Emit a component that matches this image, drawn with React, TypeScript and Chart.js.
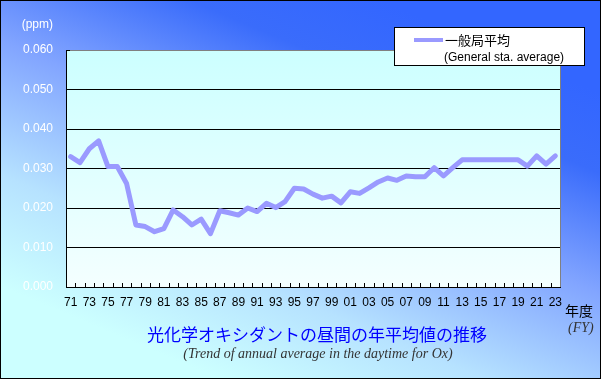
import React, { useEffect, useRef } from 'react';
import { Chart, registerables } from 'chart.js';

Chart.register(...registerables);

const years: string[] = [
  '71','72','73','74','75','76','77','78','79','80',
  '81','82','83','84','85','86','87','88','89','90',
  '91','92','93','94','95','96','97','98','99','00',
  '01','02','03','04','05','06','07','08','09','10',
  '11','12','13','14','15','16','17','18','19','20',
  '21','22','23',
];

const generalAverage: number[] = [
  0.0330, 0.0315, 0.0350, 0.0370, 0.0305, 0.0305, 0.0262, 0.0157, 0.0153, 0.0140,
  0.0148, 0.0195, 0.0178, 0.0157, 0.0172, 0.0135, 0.0193, 0.0188, 0.0182, 0.0200,
  0.0191, 0.0212, 0.0201, 0.0216, 0.0250, 0.0248, 0.0235, 0.0225, 0.0230, 0.0213,
  0.0241, 0.0237, 0.0251, 0.0266, 0.0276, 0.0270, 0.0281, 0.0279, 0.0279, 0.0302,
  0.0281, 0.0302, 0.0322, 0.0322, 0.0322, 0.0322, 0.0322, 0.0322, 0.0322, 0.0306,
  0.0332, 0.0311, 0.0332,
];

const yMin = 0;
const yMax = 0.06;
const yStep = 0.01;

const seriesLabel = '一般局平均';
const seriesLabelEn = '(General sta. average)';
const titleJa = '光化学オキシダントの昼間の年平均値の推移';
const titleEn = '(Trend of annual average in the daytime for Ox)';
const unitLabel = '(ppm)';
const xUnitJa = '年度';
const xUnitEn = '(FY)';

const LINE_COLOR = '#9a9aff';
const SANS = '"Liberation Sans", Arial, sans-serif';
const CJK = '"Noto Sans CJK JP", sans-serif';
const SERIF = '"Liberation Serif", "Times New Roman", serif';

const backgroundPlugin = {
  id: 'bgPlugin',
  beforeDraw(chart: any) {
    const { ctx, width, height, chartArea } = chart;
    ctx.save();
    const g = ctx.createLinearGradient(380, 0, 220, height);
    g.addColorStop(0, '#3366ff');
    g.addColorStop(0.18, '#3a6cfb');
    g.addColorStop(0.45, '#82a5ff');
    g.addColorStop(0.75, '#b6e2ff');
    g.addColorStop(1, '#ccffff');
    ctx.fillStyle = g;
    ctx.fillRect(0, 0, width, height);

    const pg = ctx.createLinearGradient(0, chartArea.top, 0, chartArea.bottom);
    pg.addColorStop(0, '#ccffff');
    pg.addColorStop(1, '#f4ffff');
    ctx.fillStyle = pg;
    ctx.fillRect(chartArea.left, chartArea.top, chartArea.right - chartArea.left, chartArea.bottom - chartArea.top);
    ctx.restore();
  },
  afterDraw(chart: any) {
    const { ctx, width, height, chartArea } = chart;
    const xs = chart.scales.x;
    ctx.save();
    ctx.strokeStyle = '#000';
    ctx.lineWidth = 1;
    const n = years.length;
    const step = (xs.right - xs.left) / n;
    ctx.beginPath();
    for (let i = 0; i <= n; i++) {
      const x = Math.round(xs.left + i * step) + 0.5;
      ctx.moveTo(x, chartArea.bottom);
      ctx.lineTo(x, chartArea.bottom - 4);
    }
    ctx.moveTo(chartArea.left, Math.round(chartArea.top) + 0.5);
    ctx.lineTo(chartArea.left + 4, Math.round(chartArea.top) + 0.5);
    ctx.stroke();

    ctx.strokeStyle = '#808080';
    ctx.beginPath();
    ctx.moveTo(Math.round(chartArea.right) + 0.5, chartArea.top);
    ctx.lineTo(Math.round(chartArea.right) + 0.5, chartArea.bottom);
    ctx.stroke();

    // legend
    ctx.fillStyle = '#ffffff';
    ctx.fillRect(394.5, 27.5, 190, 38);
    ctx.strokeStyle = '#000';
    ctx.strokeRect(394.5, 27.5, 190, 38);
    ctx.strokeStyle = LINE_COLOR;
    ctx.lineWidth = 4;
    ctx.beginPath();
    ctx.moveTo(414, 40);
    ctx.lineTo(443, 40);
    ctx.stroke();
    ctx.fillStyle = '#000';
    ctx.textBaseline = 'middle';
    ctx.textAlign = 'left';
    ctx.font = `13px ${CJK}`;
    ctx.fillText(seriesLabel, 445, 40);
    ctx.font = `12px ${SANS}`;
    ctx.fillText(seriesLabelEn, 444, 58);

    ctx.fillStyle = '#ffffff';
    ctx.font = `12px ${SANS}`;
    ctx.textAlign = 'right';
    ctx.fillText(unitLabel, 53, 25);

    ctx.fillStyle = '#000';
    ctx.textAlign = 'left';
    ctx.font = `14px ${CJK}`;
    ctx.fillText(xUnitJa, 565, 311);
    ctx.fillStyle = '#333333';
    ctx.font = `italic 14px ${SERIF}`;
    ctx.fillText(xUnitEn, 568, 328);

    ctx.textAlign = 'center';
    ctx.fillStyle = '#0000ff';
    ctx.font = `17px ${CJK}`;
    ctx.fillText(titleJa, 317, 335);
    ctx.fillStyle = '#333333';
    ctx.font = `italic 14px ${SERIF}`;
    ctx.fillText(titleEn, 318, 354);

    ctx.strokeStyle = '#000';
    ctx.lineWidth = 1;
    ctx.strokeRect(0.5, 0.5, width - 1, height - 1);
    ctx.restore();
  },
};

export default function App() {
  const ref = useRef<HTMLCanvasElement | null>(null);
  useEffect(() => {
    document.body.style.margin = '0';
    const canvas = ref.current;
    if (!canvas) return;
    const chart = new Chart(canvas, {
      type: 'line',
      data: {
        labels: years,
        datasets: [
          {
            label: seriesLabel,
            data: generalAverage,
            borderColor: LINE_COLOR,
            backgroundColor: LINE_COLOR,
            borderWidth: 5,
            pointRadius: 0,
            tension: 0,
            fill: false,
            borderJoinStyle: 'round',
            borderCapStyle: 'round',
          },
        ],
      },
      options: {
        responsive: false,
        animation: false,
        devicePixelRatio: 1,
        layout: { padding: { left: 0, top: 50, right: 41, bottom: 0 } },
        plugins: { legend: { display: false }, tooltip: { enabled: false }, title: { display: false } },
        scales: {
          x: {
            type: 'category',
            offset: true,
            grid: { display: false, drawTicks: false },
            border: { display: true, color: '#000', width: 1 },
            ticks: {
              autoSkip: false,
              maxRotation: 0,
              minRotation: 0,
              color: '#000',
              padding: 8,
              font: { family: SANS, size: 12 },
              callback: (_v: any, i: number) => (i % 2 === 0 ? years[i] : ''),
            },
            afterFit: (s: any) => {
              s.height = 92;
            },
          },
          y: {
            min: yMin,
            max: yMax,
            grid: {
              drawTicks: false,
              color: (c: any) => (c.index === 6 ? '#808080' : '#000'),
              lineWidth: 1,
            },
            border: { display: true, color: '#000', width: 1 },
            ticks: {
              stepSize: yStep,
              color: '#ffffff',
              padding: 13,
              font: { family: SANS, size: 12 },
              callback: (v: any) => Number(v).toFixed(3),
            },
            afterFit: (s: any) => {
              s.width = 66;
            },
          },
        },
      },
      plugins: [backgroundPlugin],
    });
    return () => chart.destroy();
  }, []);
  return (
    <div style={{ width: 601, height: 379 }}>
      <canvas ref={ref} width={601} height={379} style={{ display: 'block' }} />
    </div>
  );
}
